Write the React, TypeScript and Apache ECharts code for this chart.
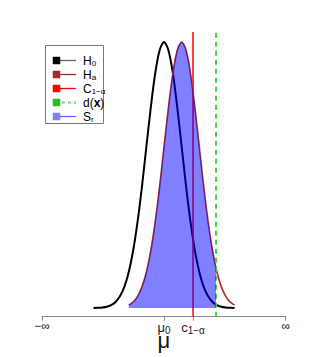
import React, { useEffect, useRef } from 'react';
import * as echarts from 'echarts';

// Null distribution H0 (mean mu0 = 0, sd 1)
const h0X = [-4, -3.75, -3.5, -3.25, -3, -2.75, -2.5, -2.25, -2, -1.75, -1.5, -1.25, -1, -0.75, -0.5, -0.25, 0, 0.25, 0.5, 0.75, 1, 1.25, 1.5, 1.75, 2, 2.25, 2.5, 2.75, 3, 3.25, 3.5, 3.75, 4];
const h0Y = [0.0001, 0.0004, 0.0009, 0.002, 0.0044, 0.0091, 0.0175, 0.0317, 0.054, 0.0863, 0.1295, 0.1826, 0.242, 0.3011, 0.3521, 0.3867, 0.3989, 0.3867, 0.3521, 0.3011, 0.242, 0.1826, 0.1295, 0.0863, 0.054, 0.0317, 0.0175, 0.0091, 0.0044, 0.002, 0.0009, 0.0004, 0.0001];
// Alternative distribution Ha (mean 1)
const haX = [-2, -1.75, -1.5, -1.25, -1, -0.75, -0.5, -0.25, 0, 0.25, 0.5, 0.75, 1, 1.25, 1.5, 1.75, 2, 2.25, 2.5, 2.75, 3, 3.25, 3.5, 3.75, 4];
const haY = [0.0044, 0.0091, 0.0175, 0.0317, 0.054, 0.0863, 0.1295, 0.1826, 0.242, 0.3011, 0.3521, 0.3867, 0.3989, 0.3867, 0.3521, 0.3011, 0.242, 0.1826, 0.1295, 0.0863, 0.054, 0.0317, 0.0175, 0.0091, 0.0044];
// Shaded region S_r under Ha up to d(x)
const fillX = [-2, -1.75, -1.5, -1.25, -1, -0.75, -0.5, -0.25, 0, 0.25, 0.5, 0.75, 1, 1.25, 1.5, 1.75, 2, 2.25, 2.5, 2.75, 2.95];
const fillY = [0.0044, 0.0091, 0.0175, 0.0317, 0.054, 0.0863, 0.1295, 0.1826, 0.242, 0.3011, 0.3521, 0.3867, 0.3989, 0.3867, 0.3521, 0.3011, 0.242, 0.1826, 0.1295, 0.0863, 0.0596];

const mu0 = 0;
const crit = 1.645;
const dObs = 2.95;
const xMin = -6.92;
const xMax = 6.9;
const yMin = -0.013;
const yMax = 0.414;

const tickValues = [xMin, mu0, crit, xMax];
const tickLabels = ['{n|\u2212\u221e}', '{m|\u03bc}{s|0}', '{m|c}{s|1\u2212\u03b1}', '{n|\u221e}'];

const legendLabels = ['{m|H}{s|0}', '{m|H}{s|a}', '{m|C}{s|1\u2212\u03b1}', '{m|d(}{b|x}{m|)}', '{m|S}{s|r}'];
const legendSquare = ['#000000', '#a52a2a', '#ff0000', '#22c022', '#8080ff'];
const legendLine = ['#666666', '#a52a2a', '#ff0000', '#66dd66', '#6666ff'];
const legendDash = [false, false, false, true, false];

const FONT = 'Liberation Sans, Arial, sans-serif';

function zip(xs: number[], ys: number[]) {
  return xs.map((x, i) => [x, ys[i]]);
}

export default function App() {
  const ref = useRef<HTMLDivElement>(null);
  useEffect(() => {
    const chart = echarts.init(ref.current!, undefined, { renderer: 'svg' });
    const rich = {
      m: { fontSize: 12, fontFamily: FONT, color: '#111' },
      b: { fontSize: 12, fontFamily: FONT, color: '#111', fontWeight: 'bold' },
      s: { fontSize: 8, fontFamily: FONT, color: '#111', verticalAlign: 'bottom', padding: [5, 0, 0, 0] },
    };
    const legendEls: any[] = [
      {
        type: 'rect',
        shape: { x: 45.5, y: 45.5, width: 58, height: 78 },
        style: { fill: '#fff', stroke: '#777', lineWidth: 1 },
      },
    ];
    legendLabels.forEach((lab, i) => {
      const cy = 60.5 + i * 14;
      legendEls.push({
        type: 'line',
        shape: { x1: 56, y1: cy, x2: 76, y2: cy },
        style: { stroke: legendLine[i], lineWidth: legendDash[i] ? 2 : 1.3, lineDash: legendDash[i] ? [3, 3] : null },
      });
      legendEls.push({
        type: 'rect',
        shape: { x: 53, y: cy - 3.5, width: 7, height: 7 },
        style: { fill: legendSquare[i], stroke: legendSquare[i], lineWidth: 0.5 },
      });
      legendEls.push({
        type: 'text',
        x: 83,
        y: cy,
        style: { text: lab, rich, verticalAlign: 'middle', align: 'left' },
      });
    });

    chart.setOption({
      animation: false,
      grid: { left: 42, right: 26.3, top: 32, bottom: 41.3, containLabel: false, outerBoundsMode: 'none' },
      xAxis: {
        type: 'value',
        min: xMin,
        max: xMax,
        name: '\u03bc',
        nameLocation: 'middle',
        nameGap: 24,
        nameMoveOverlap: false,
        nameTextStyle: { fontSize: 22, fontFamily: FONT, color: '#111', verticalAlign: 'middle' },
        axisLine: { show: true, onZero: false, lineStyle: { color: '#888', width: 1 } },
        axisTick: { show: true, customValues: tickValues, length: 4, lineStyle: { color: '#888' } },
        axisLabel: {
          customValues: tickValues,
          margin: 3,
          formatter: (v: number) => {
            let best = 0;
            let bd = Infinity;
            tickValues.forEach((t, i) => {
              const d = Math.abs(t - v);
              if (d < bd) { bd = d; best = i; }
            });
            return tickLabels[best];
          },
          rich: {
            n: { fontSize: 12, fontFamily: FONT, color: '#222' },
            m: { fontSize: 13, fontFamily: FONT, color: '#222' },
            s: { fontSize: 10, fontFamily: FONT, color: '#222', verticalAlign: 'bottom', padding: [6, 0, 0, 0] },
          },
        },
        splitLine: { show: false },
      },
      yAxis: { type: 'value', min: yMin, max: yMax, show: false },
      series: [
        {
          type: 'line', data: zip(h0X, h0Y), smooth: 0.3, showSymbol: false,
          lineStyle: { color: '#000', width: 2 }, z: 2,
        },
        {
          type: 'line', data: zip(haX, haY), smooth: 0.3, showSymbol: false,
          lineStyle: { color: '#a52a2a', width: 1.6 }, z: 2,
        },
        {
          type: 'line', data: [[crit, yMin], [crit, yMax]], showSymbol: false,
          lineStyle: { color: '#ff0000', width: 1.5 }, z: 2,
        },
        {
          type: 'line', data: [[dObs, yMin], [dObs, yMax]], showSymbol: false,
          lineStyle: { color: '#33dd33', width: 2, type: [5, 4] }, z: 2,
        },
        {
          type: 'line', data: zip(fillX, fillY), smooth: 0.3, showSymbol: false,
          lineStyle: { width: 0, opacity: 0 },
          areaStyle: { color: 'rgba(0,0,255,0.5)', origin: 0, opacity: 1 }, z: 3,
        },
      ],
      graphic: legendEls,
    });
    return () => chart.dispose();
  }, []);
  return <div ref={ref} style={{ position: 'absolute', left: 0, top: 0, width: 312, height: 358 }} />;
}
